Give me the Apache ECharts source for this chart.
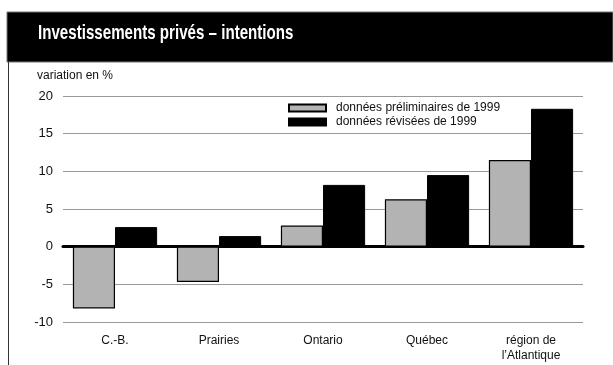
<!DOCTYPE html>
<html>
<head>
<meta charset="utf-8">
<script src="https://cdn.jsdelivr.net/npm/echarts@6/dist/echarts.min.js"></script>
<style>
  html, body { margin: 0; padding: 0; background: #fff; }
  #chart { width: 613px; height: 365px; }
</style>
</head>
<body>
<div id="chart"></div>
<script>
// Regions and investment-intention changes (%)
const regions = ['C.-B.', 'Prairies', 'Ontario', 'Québec', 'région de\nl’Atlantique'];
const preliminary1999 = [-8.2, -4.7, 2.8, 6.3, 11.5];
const revised1999 = [2.6, 1.4, 8.2, 9.5, 18.3];
const seriesNames = ['données préliminaires de 1999', 'données révisées de 1999'];
const yTicks = { min: -10, max: 20, interval: 5 };

const FONT = '"Liberation Sans", Arial, sans-serif';

const chart = echarts.init(document.getElementById('chart'), null, { renderer: 'canvas' });

chart.setOption({
  animation: false,
  backgroundColor: '#fff',
  textStyle: { fontFamily: FONT },
  graphic: [
    { type: 'rect', shape: { x: 7, y: 12, width: 606, height: 50 }, style: { fill: '#000', stroke: '#777', lineWidth: 1 } },
    { type: 'line', shape: { x1: 8.5, y1: 62, x2: 8.5, y2: 365 }, style: { stroke: '#333', lineWidth: 1 } },
    {
      // condensed title: horizontally squeezed bold sans
      type: 'text', x: 38, y: 23, scaleX: 0.72, scaleY: 1,
      style: {
        text: 'Investissements privés – intentions',
        fill: '#fff',
        font: 'bold 21px "Liberation Sans", Arial, sans-serif'
      }
    },
    {
      type: 'text', left: 37, top: 70,
      style: { text: 'variation en %', fill: '#111', font: '12px ' + FONT }
    }
  ],
  legend: {
    left: 288, top: 102, padding: 0,
    orient: 'vertical',
    icon: 'rect',
    itemWidth: 37, itemHeight: 7, itemGap: 2,
    textStyle: { fontSize: 12, color: '#111', fontFamily: FONT, padding: [0, 0, 0, 5] },
    data: seriesNames
  },
  grid: { left: 63, right: 30, top: 96, bottom: 43, containLabel: false },
  xAxis: {
    type: 'category',
    data: regions,
    axisLine: { onZero: true, lineStyle: { color: '#000', width: 3 } },
    axisTick: { show: false },
    axisLabel: { color: '#111', fontSize: 12, margin: 11, lineHeight: 15, fontFamily: FONT }
  },
  yAxis: {
    type: 'value',
    min: yTicks.min, max: yTicks.max, interval: yTicks.interval,
    axisLine: { show: false },
    axisTick: { show: false },
    axisLabel: { color: '#111', fontSize: 13, margin: 10, fontFamily: FONT },
    splitLine: { lineStyle: { color: '#999', width: 1 } }
  },
  series: [
    {
      name: seriesNames[0], type: 'bar', data: preliminary1999,
      barGap: '0%', barCategoryGap: '19%',
      itemStyle: { color: '#b3b3b3', borderColor: '#000', borderWidth: 1.2 }
    },
    {
      name: seriesNames[1], type: 'bar', data: revised1999,
      itemStyle: { color: '#000', borderColor: '#000', borderWidth: 1 }
    }
  ]
});
</script>
</body>
</html>
